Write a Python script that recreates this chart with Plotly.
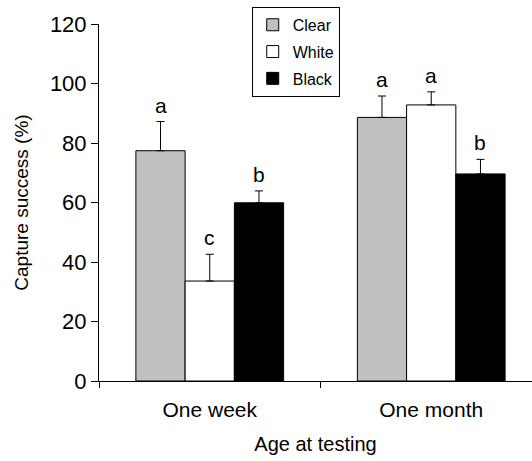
import plotly.graph_objects as go

categories = ["One week", "One month"]
series_names = ["Clear", "White", "Black"]
clear_vals = [77.4, 88.6]
white_vals = [33.6, 92.8]
black_vals = [59.9, 69.6]
clear_err = [9.8, 7.2]
white_err = [9.0, 4.4]
black_err = [4.0, 4.9]
clear_letters = ["a", "a"]
white_letters = ["c", "a"]
black_letters = ["b", "b"]
y_ticks = [0, 20, 40, 60, 80, 100, 120]

colors = ["#c0c0c0", "#ffffff", "#000000"]
FONT = "Arial, Liberation Sans, sans-serif"
bargap = 0.333

vals = [clear_vals, white_vals, black_vals]
errs = [clear_err, white_err, black_err]
letters = [clear_letters, white_letters, black_letters]

fig = go.Figure()
for i, name in enumerate(series_names):
    fig.add_trace(go.Bar(
        x=categories, y=vals[i], name=name, legendgroup=name,
        marker=dict(color=colors[i], line=dict(color="black", width=1)),
        error_y=dict(type="data", symmetric=False, array=errs[i],
                     arrayminus=[0] * len(errs[i]), color="black",
                     thickness=1, width=4),
    ))

# letters above error bars
n = len(series_names)
bw = (1 - bargap) / n
for i in range(n):
    off = -(1 - bargap) / 2 + bw * (i + 0.5)
    for j in range(len(categories)):
        fig.add_annotation(x=j + off, y=vals[i][j] + errs[i][j], text=letters[i][j],
                           showarrow=False, yanchor="bottom", yshift=3,
                           font=dict(size=21, color="black", family=FONT))

fig.update_layout(
    width=532, height=461,
    margin=dict(l=99, r=0, t=24, b=80),
    paper_bgcolor="white", plot_bgcolor="white",
    barmode="group", bargap=bargap, bargroupgap=0,
    font=dict(family=FONT, color="black"),
    showlegend=True,
    legend=dict(x=0.3527, y=1.048, xanchor="left", yanchor="top",
                bordercolor="black", borderwidth=1, bgcolor="white",
                font=dict(size=16, family=FONT), traceorder="grouped",
                tracegroupgap=3, itemwidth=30),
)
fig.update_xaxes(
    range=[-0.5, 1.455], showline=True, linecolor="black", linewidth=1,
    ticks="outside", tickson="boundaries", ticklen=6, tickcolor="black",
    tickfont=dict(size=21), ticklabelstandoff=10, showgrid=False, zeroline=False,
    title=dict(text="Age at testing", font=dict(size=20), standoff=16),
)
fig.update_yaxes(
    range=[0, 120], tickvals=y_ticks, showline=True, linecolor="black", linewidth=1,
    ticks="outside", ticklen=7, tickcolor="black", tickfont=dict(size=22),
    showgrid=False, zeroline=False,
    title=dict(text="Capture success (%)", font=dict(size=19), standoff=16),
)

fig.write_html("out.html")
